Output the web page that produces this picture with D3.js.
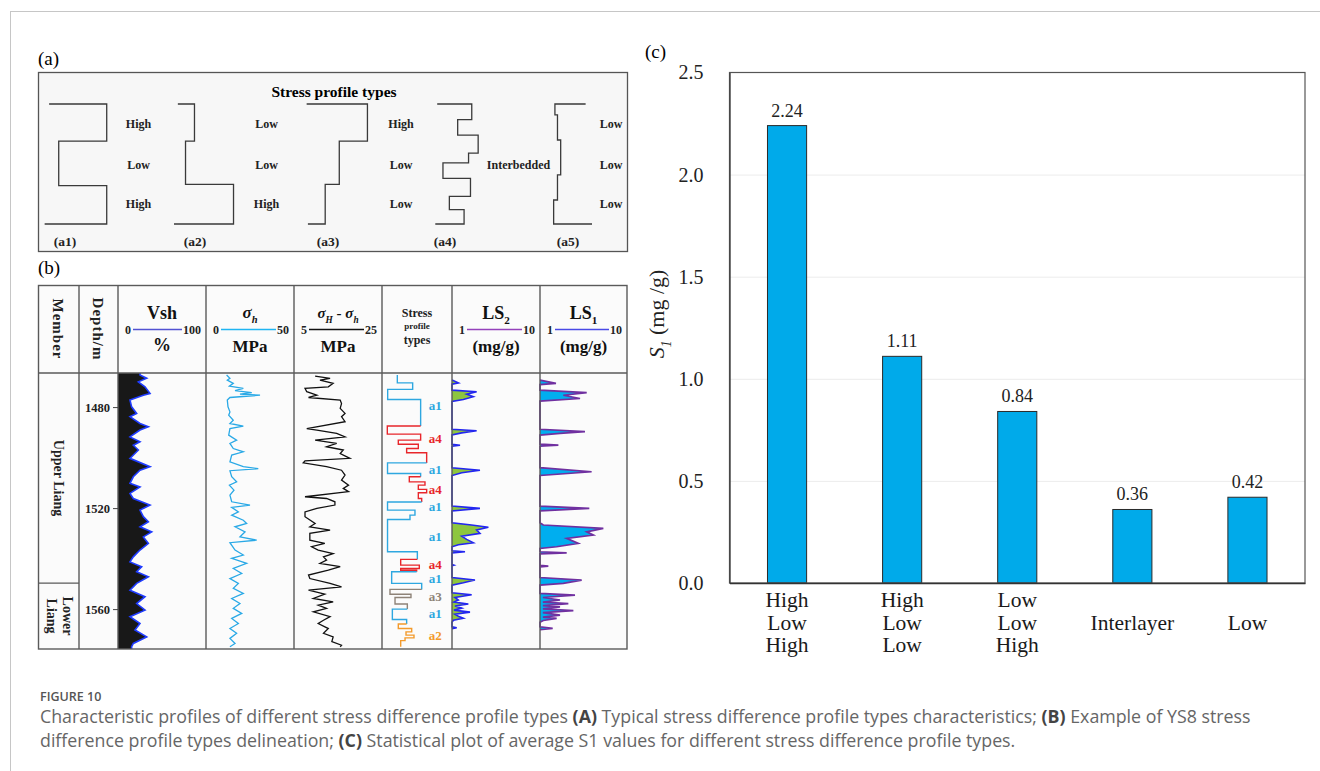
<!DOCTYPE html>
<html>
<head>
<meta charset="utf-8">
<script src="https://cdn.jsdelivr.net/npm/d3@7"></script>
<style>
  body { margin: 0; background: #fff; }
  svg { display: block; }
</style>
</head>
<body>
<svg id="fig" width="1320" height="771"></svg>
<script>
// ---------- panel (c): average S1 per stress profile type
const stressTypes = [["High", "Low", "High"], ["High", "Low", "Low"], ["Low", "Low", "High"], ["", "Interlayer", ""], ["", "Low", ""]];
const s1Means = [2.24, 1.11, 0.84, 0.36, 0.42];
const s1Ticks = [0, 0.5, 1.0, 1.5, 2.0, 2.5];

// ---------- panel (a): schematic profiles, [stress level 0-10, relative depth 0-1]
const schemeNames = ["(a1)", "(a2)", "(a3)", "(a4)", "(a5)"];
const schemeLevels = [["High", "Low", "High"], ["Low", "Low", "High"], ["High", "Low", "Low"], ["", "Interbedded", ""], ["Low", "Low", "Low"]];
const schemeShapes = [
    [[0.8, 0], [9.8, 0], [9.8, 0.31], [2.3, 0.31], [2.3, 0.68], [9.8, 0.68], [9.8, 1], [0.1, 1]],
    [[0.6, 0], [3.2, 0], [3.2, 0.31], [1.8, 0.31], [1.8, 0.67], [9.3, 0.67], [9.3, 1], [0, 1]],
    [[0.1, 0], [9.6, 0], [9.6, 0.31], [5.2, 0.31], [5.2, 0.67], [3.0, 0.67], [3.0, 1], [0.3, 1]],
    [[0.5, 0], [5.9, 0], [5.9, 0.13], [3.7, 0.13], [3.7, 0.26], [6.9, 0.26], [6.9, 0.41], [5.4, 0.41], [5.4, 0.49], [1.4, 0.49],
     [1.4, 0.62], [5.7, 0.62], [5.7, 0.77], [2.4, 0.77], [2.4, 0.88], [4.7, 0.88], [4.7, 1], [0.2, 1]],
    [[5.1, 0], [0.3, 0], [0.3, 0.09], [0.7, 0.09], [0.7, 0.3], [1.2, 0.3], [1.2, 0.59], [0.7, 0.59], [0.7, 0.8], [0.1, 0.8], [0.1, 1], [6.1, 1]]
];

// ---------- panel (b): YS8 logs, [depth m, value]
const depthDomain = [1466.5, 1575.8];
const depthTicks = [1480, 1520, 1560];
const memberBreak = 1549.7;

const vshLog = [[1467.3, 25], [1468.6, 32.6], [1470, 23.1], [1472, 30.7], [1474.6, 36.4], [1475.3, 28.8], [1477.2, 13.6], [1479.9, 15.5],
    [1482.5, 21.2], [1483.8, 13.6], [1486.5, 25], [1487.8, 34.5], [1489.1, 25], [1491.8, 13.6], [1493.7, 25], [1495.1, 17.4], [1497, 23.1],
    [1500.3, 13.6], [1503.6, 36.4], [1505, 25], [1507.6, 17.4], [1510.2, 13.6], [1511.6, 25], [1514.2, 13.6], [1516.2, 17.4], [1518.8, 36.4],
    [1520.8, 25], [1523.4, 28.8], [1525.4, 34.5], [1527.4, 25], [1529.4, 38.3], [1531.4, 28.8], [1534, 34.5], [1536.6, 25], [1539.3, 17.4],
    [1541.3, 13.6], [1543.2, 26.9], [1545.2, 21.2], [1547.2, 34.5], [1549.8, 21.2], [1552.5, 13.6], [1555.1, 30.7], [1557.8, 21.2],
    [1560.4, 30.7], [1563, 13.6], [1565.7, 25], [1568.3, 19.3], [1571, 32.6], [1573.6, 17.4], [1574.9, 15.5]];

const shLog = [[1467.3, 11.7], [1468.6, 13.6], [1469.3, 12.1], [1470.6, 15.5], [1471.7, 13.3], [1472.6, 21.2], [1473.5, 16.5], [1474.3, 26],
    [1474.9, 19.3], [1475.3, 30.7], [1476.2, 13.6], [1477.2, 12.1], [1479.9, 12.5], [1481.9, 13.6], [1483.2, 12.9], [1485.2, 15.5],
    [1486.5, 13.6], [1487.5, 21.2], [1488.5, 13.6], [1491.1, 12.9], [1493.1, 17.4], [1494.4, 13.6], [1496.4, 15.5], [1497.7, 21.2],
    [1499, 14.6], [1501.7, 13.6], [1503.6, 21.2], [1504.4, 29.7], [1505.2, 13.6], [1507.6, 14.6], [1509.6, 17.4], [1510.9, 13.3],
    [1512.9, 15.9], [1514.9, 13.6], [1517.5, 14.6], [1518.8, 25], [1519.7, 14.6], [1521.5, 18.4], [1522.8, 14.6], [1524.8, 21.2],
    [1526.1, 23.1], [1527.4, 16.5], [1529.4, 22.2], [1531.4, 19.3], [1532.7, 28.8], [1533.7, 13.6], [1536.6, 16.5], [1538.6, 21.2],
    [1539.9, 14.6], [1541.9, 23.1], [1543.9, 15.5], [1545.9, 20.3], [1547.9, 13.6], [1549.8, 18.4], [1551.8, 15.5], [1553.8, 21.2],
    [1555.8, 14.6], [1557.8, 19.3], [1559.7, 15.5], [1561.7, 20.3], [1563.7, 14.6], [1565.7, 18.4], [1567.7, 13.6], [1569.6, 17.4],
    [1571.6, 13.6], [1573.6, 16.5], [1574.9, 13.6]];

const diffLog = [[1467.7, 9.8], [1468.6, 13.2], [1469.3, 10.9], [1470.6, 13.9], [1472, 12.8], [1472.6, 7.5], [1473.9, 7.9], [1475.3, 10.2],
    [1476.2, 8.3], [1477.2, 15.5], [1478.6, 15.8], [1480.5, 15.5], [1482.5, 16.6], [1483.8, 15.8], [1485.8, 16.6], [1488.5, 7.9],
    [1489.1, 10.2], [1490.4, 14.7], [1491.8, 16.6], [1493.1, 9.8], [1494.4, 14.7], [1495.7, 12.4], [1497, 16.2], [1498.4, 15.5],
    [1500.3, 17.7], [1501.3, 7.5], [1502.1, 7.1], [1503.6, 12.4], [1505, 15.8], [1506.9, 16.6], [1508.9, 15.8], [1510.9, 17.4],
    [1512.2, 16.2], [1513.5, 17.4], [1515.5, 7.5], [1516.2, 12.4], [1517.5, 14.3], [1518.8, 14.3], [1520.1, 10.2], [1521.5, 7.5],
    [1523.4, 7.5], [1526.1, 9.8], [1527.4, 8.6], [1528.7, 13.2], [1530, 8.6], [1532.7, 8.6], [1534, 12.0], [1535.3, 9.0], [1536.6, 10.5],
    [1538, 13.9], [1539.3, 11.7], [1540.6, 12.4], [1541.9, 10.9], [1543.2, 15.5], [1544.6, 12.8], [1546.5, 8.3], [1547.9, 8.6],
    [1549.8, 13.2], [1551.2, 15.8], [1552.5, 8.3], [1554.1, 12.0], [1555.8, 9.4], [1557.1, 13.9], [1558.4, 10.5], [1559.7, 12.4],
    [1561.1, 9.4], [1563, 13.2], [1564.4, 11.7], [1565.7, 10.5], [1567.7, 12.8], [1569.6, 11.7], [1571, 13.9], [1572.9, 13.6],
    [1574.3, 15.8], [1574.9, 15.5]];

const ls2Log = [[1469.3, 1], [1470.4, 1.65], [1470.9, 1], [1473.3, 1], [1473.9, 3.52], [1474.9, 2.5], [1475.9, 3.18], [1477, 2.16], [1477.8, 1],
    [1488.8, 1], [1489.4, 3.52], [1490.2, 1.99], [1491, 1], [1494.7, 1], [1495.1, 1.82], [1495.5, 1], [1504, 1], [1505, 3.86], [1506, 2.0],
    [1507.1, 1], [1519.2, 1], [1520.1, 3.86], [1521.1, 1], [1525.8, 1], [1526.7, 3.0], [1527.6, 4.72], [1528.7, 3.52], [1530, 3.86],
    [1531.1, 1.99], [1532.4, 2.5], [1533.7, 3.18], [1534.5, 1.65], [1535.3, 1], [1536.9, 1], [1537.3, 2.33], [1537.8, 1], [1542.3, 1],
    [1542.6, 1.2], [1542.8, 1], [1547.5, 1], [1548.5, 3.35], [1549.6, 2.16], [1550.5, 1], [1553.5, 1], [1554.3, 3.01], [1555.4, 1.3],
    [1556.4, 1.65], [1557.2, 1.2], [1558, 2.67], [1558.8, 1.3], [1559.6, 1.99], [1560.4, 1.2], [1561.2, 2.84], [1562, 1.3], [1562.8, 1.65],
    [1563.6, 2.16], [1564.4, 1.14], [1565.2, 1], [1567, 1], [1567.4, 1.48], [1567.8, 1]];

const ls1Log = [[1469.3, 1], [1470.6, 2.65], [1471.1, 1], [1473.3, 1], [1474.3, 5.83], [1475.3, 3.41], [1476.6, 5.14], [1477.6, 1],
    [1488.8, 1], [1489.7, 5.65], [1490.4, 3.07], [1491.1, 1], [1494.7, 1], [1495.1, 2.9], [1495.5, 1], [1504, 1], [1505.6, 6.34], [1507.1, 1],
    [1519.2, 1], [1520.1, 6.1], [1521.1, 1], [1525.8, 1], [1526.7, 1.34], [1528, 7.55], [1529.4, 5.83], [1530.7, 6.52], [1532, 3.76],
    [1534, 4.96], [1535.3, 2.72], [1536, 1], [1537.3, 1], [1537.7, 3.76], [1538.1, 1], [1542.7, 1], [1543, 1.86], [1543.3, 1],
    [1547.5, 1], [1548.5, 5.31], [1549.8, 3.41], [1550.5, 1], [1553.8, 1], [1554.5, 4.62], [1555.4, 1.3], [1556.4, 3.07], [1557.2, 1.3],
    [1557.8, 3.93], [1558.6, 1.3], [1559.1, 3.07], [1559.9, 1.3], [1560.6, 4.45], [1561.4, 1.3], [1562.4, 3.07], [1563.2, 1.3],
    [1563.7, 2.72], [1564.5, 1.34], [1565.2, 1], [1567, 1], [1567.6, 2.31], [1568.1, 1]];

// stress profile steps: [top depth, bottom depth, relative level 0-10]
const profileGroups = [
    {type: "a1", steps: [[1467.3, 1470.4, 2.19], [1470.4, 1473, 4.38], [1473, 1477, 0.81], [1477, 1487.5, 5.52]]},
    {type: "a4", steps: [[1487.5, 1490.7, 0.76], [1490.7, 1493.1, 5.52], [1493.1, 1494.7, 2.33], [1494.7, 1496.4, 5.19], [1496.4, 1498.1, 3.52], [1498.1, 1502.1, 6.38]]},
    {type: "a1", steps: [[1502.1, 1506.3, 0.79], [1506.3, 1507.6, 5.52]]},
    {type: "a4", steps: [[1507.6, 1509.6, 3.90], [1509.6, 1510.9, 6.14], [1510.9, 1512.6, 5.19], [1512.6, 1513.9, 6.38], [1513.9, 1516.2, 5.19], [1516.2, 1517.6, 5.67]]},
    {type: "a1", steps: [[1517.6, 1520.8, 0.79], [1520.8, 1522.8, 4.71], [1522.8, 1524.5, 4.0], [1524.5, 1537.3, 0.79], [1537.3, 1540.3, 5.05]]},
    {type: "a4", steps: [[1540.3, 1542.6, 2.67], [1542.6, 1543.9, 5.33], [1543.9, 1544.6, 2.67], [1544.6, 1545.2, 4.95]]},
    {type: "a1", steps: [[1545.2, 1549.8, 1.38], [1549.8, 1552.2, 5.67]]},
    {type: "a3", steps: [[1552.2, 1554.1, 1.14], [1554.1, 1555.4, 4.14], [1555.4, 1558, 1.86], [1558, 1560, 3.62]]},
    {type: "a1", steps: [[1560, 1564.1, 1.48], [1564.1, 1565.9, 3.52]]},
    {type: "a2", steps: [[1565.9, 1567.7, 2.33], [1567.7, 1569, 4.24], [1569, 1570.3, 3.43], [1570.3, 1571.4, 4.57], [1571.4, 1572.5, 3.29], [1572.5, 1574.9, 2.67]]}
];
const profileLabels = [["a1", 1479.2], ["a4", 1492.4], ["a1", 1504.7], ["a4", 1512.6], ["a1", 1519.5], ["a1", 1531.4],
    ["a4", 1542.2], ["a1", 1547.8], ["a3", 1554.9], ["a1", 1561.7], ["a2", 1570.6]];
const profileColors = {a1: "#2ea7e0", a2: "#f39a2b", a3: "#8e8378", a4: "#e8262b"};

const SERIF = '"Liberation Serif", "Times New Roman", serif';
const SANS = '"Open Sans", "Noto Sans", sans-serif';

const svg = d3.select("#fig");

// page frame
svg.append("line").attr("x1", 10).attr("x2", 1320).attr("y1", 11.5).attr("y2", 11.5).attr("stroke", "#c6c6c6");
svg.append("line").attr("x1", 10.5).attr("x2", 10.5).attr("y1", 11).attr("y2", 771).attr("stroke", "#c6c6c6");

// helper for text with italic / subscript parts
function richText(g, x, y, parts, opts) {
    const t = g.append("text")
        .attr("x", x).attr("y", y)
        .attr("text-anchor", opts.anchor || "middle")
        .attr("font-family", SERIF)
        .attr("font-size", opts.size)
        .attr("font-weight", opts.weight || "normal")
        .attr("fill", opts.fill || "#111");
    let shifted = 0;
    parts.forEach(p => {
        const ts = t.append("tspan").text(p.t);
        if (p.italic) ts.attr("font-style", "italic");
        const want = p.sub ? opts.size * 0.3 : 0;
        if (want !== shifted) {
            ts.attr("dy", want - shifted);
            shifted = want;
        }
        if (p.sub) ts.attr("font-size", opts.size * 0.62);
    });
    return t;
}

// ================= panel (a)
const pa = svg.append("g");
pa.append("text").attr("x", 38).attr("y", 65).attr("font-family", SERIF).attr("font-size", 19).text("(a)");
pa.append("rect").attr("x", 38.5).attr("y", 72.5).attr("width", 589).attr("height", 179)
    .attr("fill", "#f7f7f7").attr("stroke", "#555").attr("stroke-width", 1.3);
pa.append("text").attr("x", 334).attr("y", 97).attr("text-anchor", "middle")
    .attr("font-family", SERIF).attr("font-weight", "bold").attr("font-size", 15.5).text("Stress profile types");

const schemeLeft = [44, 174, 306, 434, 553];
const schemeLabelX = [138.5, 266.5, 401, 518.5, 611];
const schemeNameX = [65, 195, 328, 445, 568];
const schemeY = d3.scaleLinear().domain([0, 1]).range([104, 224]);
const levelRowY = [128, 169, 208];

schemeShapes.forEach((shape, i) => {
    const sx = d3.scaleLinear().domain([0, 10]).range([schemeLeft[i], schemeLeft[i] + 64]);
    pa.append("path")
        .attr("d", d3.line().x(d => sx(d[0])).y(d => schemeY(d[1]))(shape))
        .attr("fill", "none").attr("stroke", "#3a3a3a").attr("stroke-width", 1.3);
    schemeLevels[i].forEach((lv, r) => {
        if (!lv) return;
        pa.append("text").attr("x", schemeLabelX[i]).attr("y", levelRowY[r]).attr("text-anchor", "middle")
            .attr("font-family", SERIF).attr("font-weight", "bold").attr("font-size", 12).attr("fill", "#222").text(lv);
    });
    pa.append("text").attr("x", schemeNameX[i]).attr("y", 246).attr("text-anchor", "middle")
        .attr("font-family", SERIF).attr("font-weight", "bold").attr("font-size", 13.5).attr("fill", "#222").text(schemeNames[i]);
});

// ================= panel (b)
const pb = svg.append("g");
pb.append("text").attr("x", 38).attr("y", 274).attr("font-family", SERIF).attr("font-size", 19).text("(b)");

const T = {left: 38.5, right: 627, top: 285.5, head: 373, bottom: 649};
const cols = [38.5, 79, 118, 206, 294, 382, 452, 540, 627];

pb.append("rect").attr("x", T.left).attr("y", T.top).attr("width", T.right - T.left).attr("height", T.bottom - T.top)
    .attr("fill", "#fbfbfb");

const depthY = d3.scaleLinear().domain(depthDomain).range([T.head, T.bottom]);

pb.append("clipPath").attr("id", "logClip").append("rect")
    .attr("x", T.left).attr("y", T.head).attr("width", T.right - T.left).attr("height", T.bottom - T.head);
const logs = pb.append("g").attr("clip-path", "url(#logClip)");

// Vsh
const vshX = d3.scaleLinear().domain([0, 100]).range([cols[2], cols[3]]);
const vshFull = [[depthDomain[0], vshLog[0][1]], ...vshLog, [depthDomain[1], vshLog[vshLog.length - 1][1]]];
logs.append("path")
    .attr("d", d3.area().y(d => depthY(d[0])).x0(vshX(0)).x1(d => vshX(d[1]))(vshFull))
    .attr("fill", "#181818");
logs.append("path")
    .attr("d", d3.line().y(d => depthY(d[0])).x(d => vshX(d[1]))(vshFull))
    .attr("fill", "none").attr("stroke", "#1f3cff").attr("stroke-width", 1.6);

// sigma h
const shX = d3.scaleLinear().domain([0, 50]).range([cols[3], cols[4]]);
logs.append("path")
    .attr("d", d3.line().y(d => depthY(d[0])).x(d => shX(d[1]))(shLog))
    .attr("fill", "none").attr("stroke", "#2aa9e6").attr("stroke-width", 1.3);

// sigma H - sigma h
const diffX = d3.scaleLinear().domain([5, 25]).range([cols[4], cols[5]]);
logs.append("path")
    .attr("d", d3.line().y(d => depthY(d[0])).x(d => diffX(d[1]))(diffLog))
    .attr("fill", "none").attr("stroke", "#111").attr("stroke-width", 1.3);

// stress profile types
const profX = d3.scaleLinear().domain([0, 10]).range([cols[5], cols[6]]);
let prevLevel = null;
profileGroups.forEach(g => {
    const pts = [];
    if (prevLevel !== null) pts.push([prevLevel, g.steps[0][0]]);
    g.steps.forEach(s => {
        pts.push([s[2], s[0]]);
        pts.push([s[2], s[1]]);
    });
    prevLevel = g.steps[g.steps.length - 1][2];
    logs.append("path")
        .attr("d", d3.line().x(d => profX(d[0])).y(d => depthY(d[1]))(pts))
        .attr("fill", "none").attr("stroke", profileColors[g.type]).attr("stroke-width", 1.4);
});
logs.selectAll("text.plabel").data(profileLabels).join("text")
    .attr("class", "plabel")
    .attr("x", profX(7.6)).attr("y", d => depthY(d[1]) + 4.5)
    .attr("text-anchor", "middle")
    .attr("font-family", SERIF).attr("font-weight", "bold").attr("font-size", 13)
    .attr("fill", d => profileColors[d[0]])
    .text(d => d[0]);

// LS2
const ls2X = d3.scaleLinear().domain([1, 10]).range([cols[6], cols[7]]);
logs.append("path")
    .attr("d", d3.area().y(d => depthY(d[0])).x0(ls2X(1)).x1(d => ls2X(d[1]))(ls2Log))
    .attr("fill", "#8dc63f");
logs.append("path")
    .attr("d", d3.line().y(d => depthY(d[0])).x(d => ls2X(d[1]))(ls2Log))
    .attr("fill", "none").attr("stroke", "#2326f0").attr("stroke-width", 1.6);

// LS1
const ls1X = d3.scaleLinear().domain([1, 10]).range([cols[7], cols[8]]);
logs.append("path")
    .attr("d", d3.area().y(d => depthY(d[0])).x0(ls1X(1)).x1(d => ls1X(d[1]))(ls1Log))
    .attr("fill", "#00aeef");
logs.append("path")
    .attr("d", d3.line().y(d => depthY(d[0])).x(d => ls1X(d[1]))(ls1Log))
    .attr("fill", "none").attr("stroke", "#7030a0").attr("stroke-width", 1.7);

// table lines
const grid = pb.append("g").attr("stroke", "#5a5a5a").attr("stroke-width", 1.4);
cols.slice(1, -1).forEach(c => grid.append("line").attr("x1", c).attr("x2", c).attr("y1", T.top).attr("y2", T.bottom));
grid.append("line").attr("x1", T.left).attr("x2", T.right).attr("y1", T.head).attr("y2", T.head);
grid.append("line").attr("x1", T.left).attr("x2", cols[1]).attr("y1", depthY(memberBreak)).attr("y2", depthY(memberBreak));
grid.append("rect").attr("x", T.left).attr("y", T.top).attr("width", T.right - T.left).attr("height", T.bottom - T.top)
    .attr("fill", "none");

// depth axis
const depthAxis = pb.append("g").attr("transform", `translate(${cols[2]},0)`)
    .call(d3.axisLeft(depthY).tickValues(depthTicks).tickFormat(d3.format("d")).tickSize(5).tickPadding(3));
depthAxis.select(".domain").remove();
depthAxis.selectAll(".tick line").attr("stroke", "#444");
depthAxis.selectAll("text").attr("font-family", SERIF).attr("font-weight", "bold").attr("font-size", 12.5).attr("fill", "#222");

// member names
function rotatedLines(g, cx, cy, lines, size) {
    const t = g.append("text").attr("transform", `translate(${cx},${cy}) rotate(90)`)
        .attr("text-anchor", "middle").attr("font-family", SERIF).attr("font-weight", "bold")
        .attr("font-size", size).attr("fill", "#222");
    lines.forEach((l, i) => t.append("tspan").attr("x", 0).attr("dy", i === 0 ? -(lines.length - 1) * size * 0.55 + size * 0.35 : size * 1.1).text(l));
    return t;
}
const upperMid = depthY((depthDomain[0] + memberBreak) / 2);
const lowerMid = depthY((memberBreak + depthDomain[1]) / 2);
rotatedLines(pb, 58.5, upperMid, ["Upper  Liang"], 14);
rotatedLines(pb, 60, lowerMid, ["Lower", "Liang"], 14);

// header
const hb = pb.append("g");
rotatedLines(hb, 58.5, 329, ["Member"], 15).attr("letter-spacing", 1);
rotatedLines(hb, 98.5, 329, ["Depth/m"], 15).attr("letter-spacing", 1);

function scaleBar(colIdx, lo, hi, color) {
    const l = cols[colIdx], r = cols[colIdx + 1];
    const y = 329.5;
    hb.append("text").attr("x", l + 10).attr("y", y + 4).attr("text-anchor", "middle")
        .attr("font-family", SERIF).attr("font-weight", "bold").attr("font-size", 12).attr("fill", "#222").text(lo);
    const hiText = hb.append("text").attr("x", r - 5).attr("y", y + 4).attr("text-anchor", "end")
        .attr("font-family", SERIF).attr("font-weight", "bold").attr("font-size", 12).attr("fill", "#222").text(hi);
    const w = hiText.node().getComputedTextLength();
    hb.append("line").attr("x1", l + 15).attr("x2", r - 6 - w).attr("y1", y).attr("y2", y)
        .attr("stroke", color).attr("stroke-width", 1.5);
}

const colMid = i => (cols[i] + cols[i + 1]) / 2;

richText(hb, colMid(2), 319, [{t: "Vsh"}], {size: 18, weight: "bold"});
scaleBar(2, "0", "100", "#5252d2");
richText(hb, colMid(2), 351, [{t: "%"}], {size: 18, weight: "bold"});

richText(hb, colMid(3), 318, [{t: "σ", italic: true}, {t: "h", italic: true, sub: true}], {size: 17, weight: "bold"});
scaleBar(3, "0", "50", "#1fb5f2");
richText(hb, colMid(3), 352, [{t: "MPa"}], {size: 17, weight: "bold"});

richText(hb, colMid(4), 318, [{t: "σ", italic: true}, {t: "H", italic: true, sub: true}, {t: " - "},
    {t: "σ", italic: true}, {t: "h", italic: true, sub: true}], {size: 15, weight: "bold"});
scaleBar(4, "5", "25", "#111");
richText(hb, colMid(4), 352, [{t: "MPa"}], {size: 17, weight: "bold"});

richText(hb, colMid(5), 317, [{t: "Stress"}], {size: 12, weight: "bold", fill: "#222"});
richText(hb, colMid(5), 329, [{t: "profile"}], {size: 9, weight: "bold", fill: "#222"});
richText(hb, colMid(5), 344, [{t: "types"}], {size: 12, weight: "bold", fill: "#222"});

richText(hb, colMid(6), 319, [{t: "LS"}, {t: "2", sub: true}], {size: 18, weight: "bold"});
scaleBar(6, "1", "10", "#9441bb");
richText(hb, colMid(6), 352, [{t: "(mg/g)"}], {size: 17, weight: "bold"});

richText(hb, colMid(7), 319, [{t: "LS"}, {t: "1", sub: true}], {size: 18, weight: "bold"});
scaleBar(7, "1", "10", "#4949e6");
richText(hb, colMid(7), 352, [{t: "(mg/g)"}], {size: 17, weight: "bold"});

// ================= panel (c)
const pc = svg.append("g");
const C = {left: 729.5, right: 1305, top: 72.5, bottom: 583};
pc.append("text").attr("x", 645).attr("y", 58).attr("font-family", SERIF).attr("font-size", 19).text("(c)");

const x = d3.scaleBand().domain(stressTypes.map((d, i) => i)).range([C.left, C.right]).paddingInner(0.66).paddingOuter(0.33);
const y = d3.scaleLinear().domain([0, 2.5]).range([C.bottom, C.top]);

// gridlines
pc.append("g").attr("transform", `translate(${C.left},0)`)
    .call(d3.axisLeft(y).tickValues(s1Ticks.slice(1, -1)).tickSize(-(C.right - C.left)).tickFormat(""))
    .call(g => g.select(".domain").remove())
    .call(g => g.selectAll(".tick line").attr("stroke", "#ececec"));

// bars
pc.selectAll("rect.bar").data(s1Means).join("rect")
    .attr("class", "bar")
    .attr("x", (d, i) => x(i)).attr("y", d => y(d))
    .attr("width", x.bandwidth()).attr("height", d => y(0) - y(d))
    .attr("fill", "#00aaea").attr("stroke", "#2a2a2a").attr("stroke-width", 1);

// value labels
pc.selectAll("text.val").data(s1Means).join("text")
    .attr("class", "val")
    .attr("x", (d, i) => x(i) + x.bandwidth() / 2).attr("y", d => y(d) - 9)
    .attr("text-anchor", "middle").attr("font-family", SERIF).attr("font-size", 18).attr("fill", "#222")
    .text(d => d3.format(".2f")(d));

// frame
pc.append("rect").attr("x", C.left).attr("y", C.top).attr("width", C.right - C.left).attr("height", C.bottom - C.top)
    .attr("fill", "none").attr("stroke", "#555").attr("stroke-width", 1.2);

// y axis
const yAxis = pc.append("g").attr("transform", `translate(${C.left},0)`)
    .call(d3.axisLeft(y).tickValues(s1Ticks).tickFormat(d3.format(".1f")).tickSize(0).tickPadding(26));
yAxis.select(".domain").attr("stroke", "#444").attr("stroke-width", 1.4);
yAxis.selectAll("text").attr("font-family", SERIF).attr("font-size", 20).attr("fill", "#222");

// x axis: one text per label line
const xAxis = pc.append("g").attr("transform", `translate(0,${C.bottom})`)
    .call(d3.axisBottom(x).tickSize(0).tickFormat(""));
xAxis.select(".domain").attr("stroke", "#333").attr("stroke-width", 1.6);
xAxis.selectAll(".tick").each(function (i) {
    const tick = d3.select(this);
    stressTypes[i].forEach((line, r) => {
        if (!line) return;
        tick.append("text").attr("x", 0).attr("y", 24 + r * 22.5)
            .attr("text-anchor", "middle").attr("font-family", SERIF).attr("font-size", 21.5).attr("fill", "#1a1a1a")
            .text(line);
    });
});

// y title
richText(pc.append("g").attr("transform", "translate(664,314) rotate(-90)"), 0, 0,
    [{t: "S", italic: true}, {t: "1", italic: true, sub: true}, {t: " (mg /g)"}], {size: 22, fill: "#222"});

// ================= caption
const cap = svg.append("g").attr("font-family", SANS);
cap.append("text").attr("x", 40).attr("y", 701).attr("font-size", 12.5).attr("font-weight", 600).attr("fill", "#555")
    .text("FIGURE 10");
const capLines = [
    [["Characteristic profiles of different stress difference profile types ", false], ["(A)", true],
     [" Typical stress difference profile types characteristics; ", false], ["(B)", true], [" Example of YS8 stress", false]],
    [["difference profile types delineation; ", false], ["(C)", true],
     [" Statistical plot of average S1 values for different stress difference profile types.", false]]
];
capLines.forEach((parts, r) => {
    const t = cap.append("text").attr("x", 40).attr("y", 723 + r * 24).attr("font-size", 17.8).attr("fill", "#666");
    parts.forEach(([s, b]) => {
        const ts = t.append("tspan").text(s);
        if (b) ts.attr("font-weight", 700).attr("fill", "#444");
    });
});
</script>
</body>
</html>
